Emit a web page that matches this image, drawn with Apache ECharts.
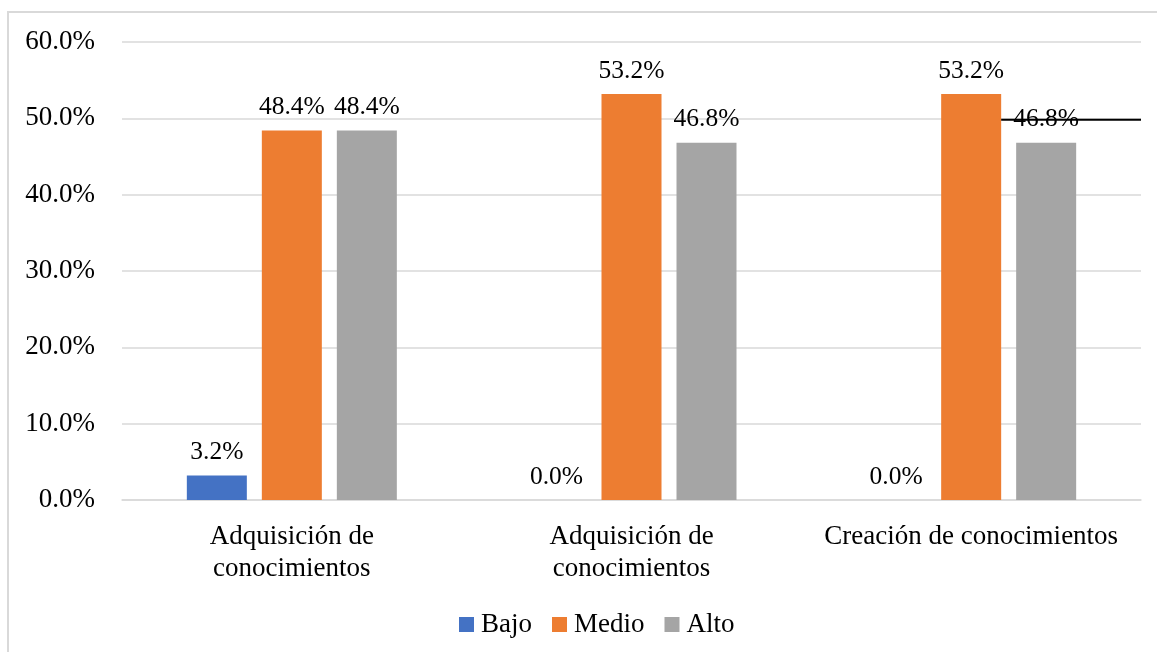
<!DOCTYPE html>
<html><head><meta charset="utf-8">
<script src="https://cdn.jsdelivr.net/npm/echarts@6/dist/echarts.min.js"></script>
<style>html,body{margin:0;padding:0;background:#fff}#c{width:1157px;height:652px}</style>
</head><body><div id="c"></div>
<script>
const categories = ['Adquisición de\nconocimientos', 'Adquisición de\nconocimientos', 'Creación de conocimientos'];
const seriesNames = ['Bajo', 'Medio', 'Alto'];
const bajo = [3.2, 0.0, 0.0];
const medio = [48.4, 53.2, 53.2];
const alto = [48.4, 46.8, 46.8];
const colors = ['#4472C4', '#ED7D31', '#A5A5A5'];
const yTicks = [0, 10, 20, 30, 40, 50, 60];
const strayLineValue = 49.8;

const font = 'Liberation Serif, Times New Roman, serif';
const FS = 27;
const chart = echarts.init(document.getElementById('c'), null, {renderer: 'canvas'});
const mk = (name, data, color) => ({
  name, type: 'bar', data, barWidth: 60, barGap: '25%',
  itemStyle: {color},
  label: {show: true, position: 'top', distance: 10, color: '#000', fontFamily: font, fontSize: 25.5,
    formatter: p => p.value.toFixed(1) + '%'}
});
chart.setOption({
  animation: false,
  textStyle: {fontFamily: font},
  grid: {left: 122, right: 16, top: 42, bottom: 152},
  legend: {
    data: seriesNames, left: 454, top: 606, itemWidth: 15, itemHeight: 15, itemGap: 20,
    icon: 'rect', textStyle: {fontFamily: font, fontSize: FS, color: '#000', padding: [0, 0, 0, 2]}
  },
  xAxis: {
    type: 'category', data: categories,
    axisLine: {lineStyle: {color: '#D9D9D9', width: 1.5}},
    axisTick: {show: false},
    axisLabel: {color: '#000', fontFamily: font, fontSize: FS, lineHeight: 32, margin: 21, interval: 0}
  },
  yAxis: {
    type: 'value', min: yTicks[0], max: yTicks[yTicks.length - 1], interval: 10,
    axisLine: {show: false}, axisTick: {show: false},
    splitLine: {lineStyle: {color: '#D9D9D9', width: 1.5}},
    axisLabel: {color: '#000', fontFamily: font, fontSize: FS, margin: 27, formatter: v => v.toFixed(1) + '%'}
  },
  series: [mk(seriesNames[0], bajo, colors[0]), mk(seriesNames[1], medio, colors[1]), mk(seriesNames[2], alto, colors[2])]
});
// frame and stray line
const p0 = chart.convertToPixel({gridIndex: 0}, [2, strayLineValue]);
const gridRight = 1157 - 16;
chart.setOption({
  graphic: [
    {type: 'rect', shape: {x: 8, y: 12, width: 1300, height: 800}, style: {fill: 'none', stroke: '#D9D9D9', lineWidth: 2}, silent: true},
    {type: 'line', shape: {x1: p0[0] + 30, y1: p0[1], x2: gridRight, y2: p0[1]}, style: {stroke: '#000', lineWidth: 2}, z: 100}
  ]
});
</script></body></html>
